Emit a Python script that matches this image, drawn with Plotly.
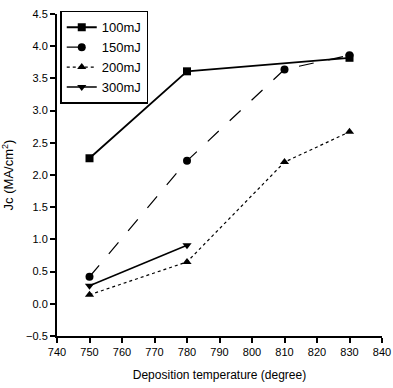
import plotly.graph_objects as go

temps_100 = [750, 780, 830]
jc_100 = [2.26, 3.61, 3.82]
temps_150 = [750, 780, 810, 830]
jc_150 = [0.42, 2.22, 3.64, 3.86]
temps_200 = [750, 780, 810, 830]
jc_200 = [0.14, 0.65, 2.2, 2.67]
temps_300 = [750, 780]
jc_300 = [0.28, 0.91]

fig = go.Figure()
series = [
    ("100mJ", temps_100, jc_100, "square", "solid", 1.8),
    ("150mJ", temps_150, jc_150, "circle", "longdash", 1.2),
    ("200mJ", temps_200, jc_200, "triangle-up", "dot", 1.2),
    ("300mJ", temps_300, jc_300, "triangle-down", "solid", 1.5),
]
for name, x, y, sym, dash, w in series:
    fig.add_trace(go.Scatter(
        x=x, y=y, name=name, mode="lines+markers",
        line=dict(color="black", width=w, dash=dash),
        marker=dict(symbol=sym, size=8, color="black"),
    ))

fig.update_layout(
    width=393, height=388,
    margin=dict(l=57, r=11, t=14, b=52, autoexpand=False),
    paper_bgcolor="white", plot_bgcolor="white",
    font=dict(family="Liberation Sans, Arial, sans-serif", size=11, color="black"),
    legend=dict(x=0.01, y=1.01, xanchor="left", yanchor="top",
                bordercolor="black", borderwidth=1.5, bgcolor="white",
                font=dict(size=13), tracegroupgap=0, itemwidth=30),
    showlegend=True,
)
fig.update_xaxes(
    range=[740, 840], dtick=10, tick0=740,
    showline=True, linecolor="black", linewidth=2,
    ticks="outside", tickcolor="black", ticklen=5, tickwidth=1.5,
    showgrid=False, zeroline=False, automargin=False,
    ticklabeloverflow="allow",
    title=dict(text="Deposition temperature (degree)", font=dict(size=12), standoff=13),
)
fig.update_yaxes(
    range=[-0.5, 4.5], dtick=0.5, tick0=-0.5, tickformat=".1f",
    showline=True, linecolor="black", linewidth=2,
    ticks="outside", tickcolor="black", ticklen=5, tickwidth=1.5,
    showgrid=False, zeroline=False, automargin=False,
    title=dict(text="Jc (MA/cm<sup>2</sup>)", font=dict(size=13), standoff=10),
)
fig.write_html("out.html", config={"displayModeBar": False},
               post_script="document.body.style.margin='0';document.body.style.overflow='hidden';")
